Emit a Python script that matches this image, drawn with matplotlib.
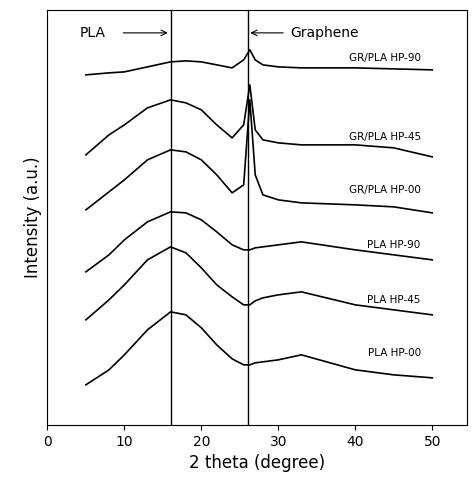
import numpy as np
import matplotlib.pyplot as plt

# values (intensity in arbitrary units, offset per curve)
tt = [5, 8, 10, 13, 16, 18, 20, 22, 24, 25.5, 26.3, 27, 28, 30, 33, 40, 45, 50]
pla00 = [40, 55, 70, 95, 113, 110, 97, 80, 66, 60, 60, 62, 63, 65, 70, 55, 50, 47]
pla45 = [105, 125, 140, 165, 178, 172, 157, 140, 128, 120, 120, 124, 127, 130, 133, 120, 115, 110]
pla90 = [153, 170, 185, 203, 213, 212, 205, 193, 180, 175, 175, 177, 178, 180, 183, 175, 170, 165]
gr00 = [215, 233, 245, 265, 275, 273, 265, 250, 232, 240, 325, 250, 230, 225, 222, 220, 218, 212]
gr45 = [270, 290, 300, 317, 325, 322, 315, 300, 287, 300, 340, 295, 285, 282, 280, 280, 277, 268]
gr90 = [350, 352, 353, 358, 363, 364, 363, 360, 357, 365, 375, 365, 360, 358, 357, 357, 356, 355]
labels = ['PLA HP-00', 'PLA HP-45', 'PLA HP-90', 'GR/PLA HP-00', 'GR/PLA HP-45', 'GR/PLA HP-90']
label_y = [72, 125, 180, 235, 288, 367]

fig, ax = plt.subplots(figsize=(4.74, 4.94), dpi=100)
fig.subplots_adjust(left=0.1, right=0.985, top=0.98, bottom=0.14)
for s in [pla00, pla45, pla90, gr00, gr45, gr90]:
    ax.plot(tt, s, color='black', lw=1.2)
for lab, y in zip(labels, label_y):
    ax.text(48.5, y, lab, ha='right', va='center', fontsize=7.5)

ax.axvline(16, color='black', lw=1)
ax.axvline(26, color='black', lw=1)
ax.annotate('', xy=(16, 392), xytext=(9.5, 392),
            arrowprops=dict(arrowstyle='->', color='black', lw=0.8))
ax.text(4.2, 392, 'PLA', va='center', fontsize=10)
ax.annotate('', xy=(26, 392), xytext=(31, 392),
            arrowprops=dict(arrowstyle='->', color='black', lw=0.8))
ax.text(31.5, 392, 'Graphene', va='center', fontsize=10)

ax.set_xlim(0, 54.5)
ax.set_ylim(0, 415)
ax.set_yticks([])
ax.set_xticks([0, 10, 20, 30, 40, 50])
ax.tick_params(axis='x', labelsize=10)
ax.set_xlabel('2 theta (degree)', fontsize=12)
ax.set_ylabel('Intensity (a.u.)', fontsize=12)
fig.savefig('out.png')
